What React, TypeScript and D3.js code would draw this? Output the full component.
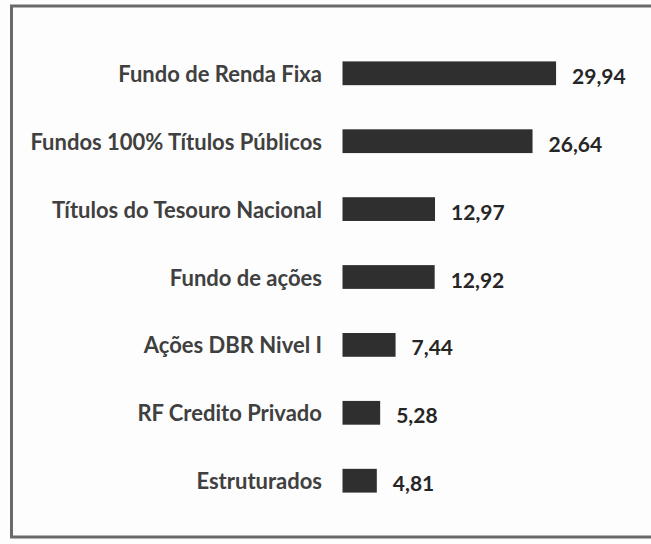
import React from 'react';
import * as d3 from 'd3';

const categories = [
  'Fundo de Renda Fixa',
  'Fundos 100% Títulos Públicos',
  'Títulos do Tesouro Nacional',
  'Fundo de ações',
  'Ações DBR Nivel I',
  'RF Credito Privado',
  'Estruturados',
];
const values = [29.94, 26.64, 12.97, 12.92, 7.44, 5.28, 4.81];
const valueLabels = ['29,94', '26,64', '12,97', '12,92', '7,44', '5,28', '4,81'];

const W = 651;
const H = 544;

export default function App() {
  // layout
  const x0 = 342.5;
  const x = d3.scaleLinear().domain([0, 30]).range([x0, x0 + 214]);
  const y = d3.scaleBand<string>()
    .domain(categories)
    .range([39, 515])
    .paddingInner(0.65)
    .paddingOuter(0.33);

  const font = "Lato, 'Open Sans', sans-serif";

  return (
    <svg width={W} height={H} style={{ position: 'absolute', left: 0, top: 0, background: '#fff' }}>
      <rect x={0} y={0} width={W} height={H} fill="#fdfdfd" />
      {/* frame */}
      <path d={`M ${W + 5} 6 L 11.5 6 L 11.5 537 L ${W + 5} 537`} fill="none" stroke="#6a6a6a" strokeWidth={3} />

      {categories.map((c, i) => {
        const yy = y(c)!;
        const bh = y.bandwidth();
        return (
          <g key={c}>
            <text x={322} y={yy + bh / 2} textAnchor="end" dominantBaseline="central"
              fontFamily={font} fontWeight={700} fontSize={22} fill="#404040">{c}</text>
            <rect x={x(0)} y={yy} width={x(values[i]) - x(0)} height={bh} fill="#2f2f2f" />
            <text x={x(values[i]) + 16} y={yy + bh / 2 + 2} dominantBaseline="central"
              fontFamily={font} fontWeight={700} fontSize={21} fill="#262626">{valueLabels[i]}</text>
          </g>
        );
      })}
    </svg>
  );
}
